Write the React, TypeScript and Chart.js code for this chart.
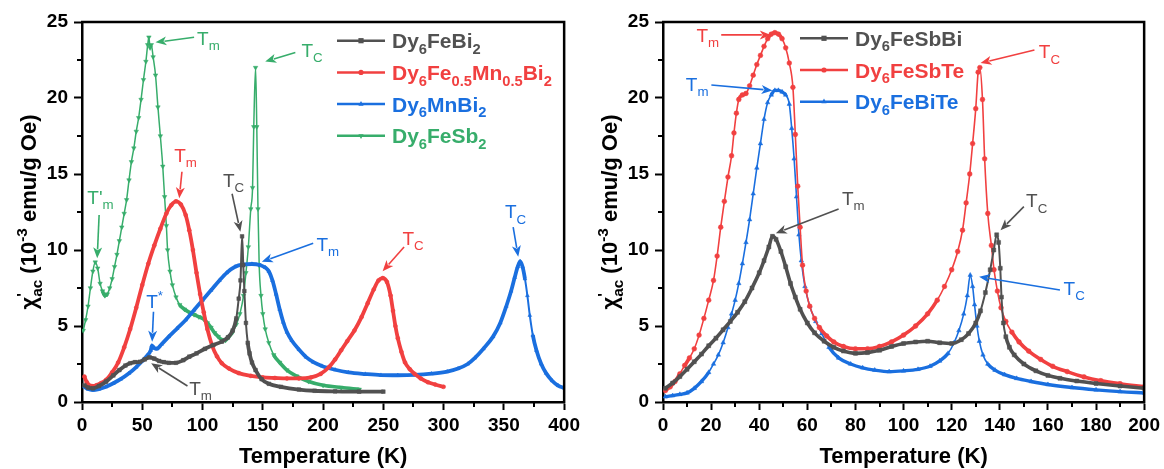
import React, { useEffect, useRef } from "react";
import { Chart, registerables } from "chart.js";

Chart.register(...registerables);

type Pt = [number, number];
type Part = { t: string; k?: "sub" | "sup"; stay?: boolean };

const FONT = "'Liberation Sans', Arial, Helvetica, sans-serif";
const BLACK = "#515151";
const RED = "#F14040";
const BLUE = "#1A6FDF";
const GREEN = "#37AD6B";

// ---------------- Left panel data: T (K), chi'ac (10^-3 emu/g Oe)
const dy6FeBi2: Pt[] = [
  [2, 1.1], [5, 0.95], [9, 0.9], [14, 1.05], [20, 1.34], [26, 1.75], [31, 2.1], [36, 2.4], [40, 2.55],
  [44, 2.62], [48, 2.65], [52, 2.8], [56, 2.94], [60, 2.85], [64, 2.7], [68, 2.62], [72, 2.58], [78, 2.58],
  [84, 2.75], [89, 2.98], [95, 3.2], [102, 3.5], [109, 3.75], [116, 3.97], [121, 4.25], [125, 4.7],
  [128, 5.5], [130, 6.8], [131.5, 8.0], [132.8, 10.9], [133.8, 9.0], [134.7, 7.3], [136, 5.2], [137.5, 3.9],
  [139, 3.2], [141, 2.6], [144, 2.1], [149, 1.5], [155, 1.2], [165, 1.0], [180, 0.82], [193, 0.74],
  [210, 0.7], [230, 0.68], [250, 0.68],
];
const dy6Fe05Mn05Bi2: Pt[] = [
  [2, 1.67], [4, 1.3], [8, 1.05], [12, 1.1], [16, 1.25], [20, 1.45], [25, 1.95], [30, 2.6], [35, 3.6],
  [40, 4.8], [45, 6.2], [50, 7.7], [55, 9.1], [60, 10.3], [65, 11.4], [70, 12.4], [74, 12.95], [78, 13.2],
  [82, 13.0], [86, 12.3], [89, 11.3], [92, 10.0], [95, 8.5], [98, 7.1], [101, 5.9], [104, 4.8], [108, 3.7],
  [112, 3.0], [116, 2.55], [122, 2.2], [130, 1.9], [140, 1.72], [150, 1.62], [160, 1.58], [170, 1.55],
  [180, 1.55], [190, 1.62], [198, 1.85], [205, 2.3], [210, 2.8], [215, 3.4], [220, 4.0], [226, 4.7],
  [232, 5.6], [237, 6.5], [242, 7.4], [246, 8.0], [249.5, 8.15], [253, 7.9], [256, 7.0], [258, 6.0],
  [260, 5.0], [262, 4.2], [265, 3.3], [268, 2.6], [272, 2.15], [276, 1.85], [281, 1.55], [287, 1.3],
  [293, 1.15], [300, 1.0],
];
const dy6MnBi2: Pt[] = [
  [2, 1.0], [5, 0.85], [9, 0.79], [14, 0.85], [20, 1.0], [26, 1.23], [32, 1.5], [39, 1.89], [45, 2.3],
  [50, 2.7], [54, 3.05], [57, 3.4], [58, 3.7], [60, 3.55], [62, 3.5], [66, 3.8], [72, 4.3], [79, 4.85],
  [86, 5.4], [93, 6.05], [100, 6.7], [107, 7.35], [114, 8.0], [120, 8.5], [127, 8.9], [134, 9.05],
  [141, 9.08], [148, 9.0], [152, 8.85], [155, 8.6], [158, 8.0], [161, 7.1], [164, 6.1], [167, 5.25],
  [170, 4.6], [174, 4.05], [180, 3.45], [186, 2.95], [192, 2.62], [199, 2.37], [210, 2.12], [221, 1.95],
  [235, 1.84], [248, 1.77], [262, 1.76], [276, 1.78], [290, 1.86], [303, 2.0], [312, 2.2], [320, 2.5],
  [326, 2.9], [333, 3.5], [341, 4.3], [347, 5.2], [352, 6.3], [356, 7.3], [359, 8.2], [361.5, 8.9],
  [363.5, 9.25], [365.5, 8.9], [367.5, 8.1], [369.5, 7.0], [371.5, 5.7], [374, 4.4], [377, 3.4],
  [381, 2.5], [385, 1.9], [390, 1.4], [395, 1.08], [400, 0.92],
];
const dy6FeSb2: Pt[] = [
  [1, 4.7], [3, 5.4], [5, 6.3], [7, 7.5], [9, 8.6], [11, 9.2], [13, 8.8], [15, 7.8], [17, 7.3], [19, 7.0],
  [21, 7.1], [23, 7.5], [25, 8.1], [27, 8.9], [29, 9.7], [31, 10.6], [33, 11.5], [35, 12.4], [37, 13.3],
  [39, 14.6], [41, 15.8], [43, 16.7], [45, 17.8], [47, 18.7], [49, 19.9], [51, 21.2], [53, 22.4],
  [54.5, 23.5], [55.5, 24.0], [56.5, 23.3], [57.5, 23.5], [59, 22.7], [61, 21.5], [63, 19.4], [65, 17.5],
  [67, 15.5], [68.5, 13.5], [70, 11.6], [71, 10.0], [73, 8.6], [75, 7.7], [78, 6.9], [81, 6.4], [85, 6.1],
  [89, 5.9], [93, 5.75], [97, 5.6], [101, 5.45], [104, 5.2], [107, 4.9], [110, 4.55], [113, 4.3],
  [116, 4.1], [119, 4.05], [122, 4.3], [125, 4.6], [128, 5.1], [131, 5.8], [134, 7.0], [136, 8.5],
  [138, 10.2], [140, 12.7], [141.5, 14.1], [142.5, 18.1], [144, 22.0], [145, 18.1], [146, 12.7],
  [147, 9.0], [148.5, 7.0], [150, 5.8], [152, 4.8], [155, 3.9], [159, 3.1], [164, 2.6], [170, 2.1],
  [178, 1.7], [188, 1.35], [200, 1.1], [215, 0.95], [230, 0.83],
];

// ---------------- Right panel data
const dy6FeSbBi: Pt[] = [
  [1, 0.9], [4, 1.25], [7, 1.67], [10, 2.15], [13, 2.65], [16, 3.15], [19, 3.7], [22, 4.2], [25, 4.75],
  [28, 5.3], [31, 5.9], [34, 6.6], [37, 7.5], [40, 8.5], [42, 9.3], [44, 10.2], [45.5, 10.9], [47, 10.7],
  [49, 9.9], [51, 8.9], [53, 7.8], [55, 6.9], [57, 6.1], [60, 5.2], [63, 4.55], [67, 4.0], [71, 3.6],
  [75, 3.35], [80, 3.2], [85, 3.25], [90, 3.4], [95, 3.65], [100, 3.85], [105, 3.95], [110, 4.0],
  [115, 3.9], [120, 3.85], [124, 4.1], [127, 4.5], [130, 5.2], [132, 6.0], [134, 7.2], [136, 8.7],
  [137.5, 10.0], [138.7, 11.0], [139.5, 10.5], [140.2, 8.8], [140.7, 6.9], [141.5, 5.2], [142.5, 4.3],
  [144, 3.6], [146, 3.1], [150, 2.5], [155, 2.05], [160, 1.75], [165, 1.56], [172, 1.38], [180, 1.22],
  [190, 1.05], [200, 0.9],
];
const dy6FeSbTe: Pt[] = [
  [1, 0.75], [3, 1.0], [5, 1.35], [7, 1.85], [9, 2.4], [11, 2.9], [13, 3.5], [15, 4.4], [17, 5.5],
  [19, 6.7], [21, 8.0], [22.5, 9.6], [24, 11.5], [25.5, 13.2], [27, 14.8], [28.5, 16.2], [29.5, 17.7],
  [30.5, 19.0], [31.5, 19.9], [33, 20.2], [34.5, 20.3], [36, 20.8], [37.5, 21.5], [39, 22.2], [40.5, 22.8],
  [42, 23.4], [43.5, 23.9], [45, 24.2], [46.5, 24.3], [48, 24.2], [49.5, 23.9], [51, 23.3], [52.5, 22.3],
  [54, 20.7], [55, 17.6], [56, 14.2], [57, 11.5], [58, 9.0], [59.5, 7.3], [61, 6.3], [63, 5.5], [65, 4.9],
  [68, 4.35], [71, 3.95], [75, 3.65], [80, 3.5], [85, 3.5], [90, 3.65], [95, 3.95], [100, 4.4], [105, 5.0],
  [110, 5.8], [114, 6.7], [117, 7.6], [120, 8.7], [122.5, 9.9], [124.5, 11.3], [126, 13.1], [127.5, 15.0],
  [128.7, 17.0], [130, 19.3], [131, 21.7], [131.7, 22.0], [132.8, 19.9], [133.7, 16.0], [135, 12.4],
  [136.5, 10.3], [137.6, 8.7], [139, 7.3], [140.5, 6.2], [142.5, 5.3], [145, 4.6], [148, 3.95],
  [152, 3.35], [157, 2.8], [162, 2.35], [168, 2.0], [175, 1.65], [182, 1.4], [190, 1.2], [200, 1.0],
];
const dy6FeBiTe: Pt[] = [
  [1, 0.35], [4, 0.42], [7, 0.5], [10, 0.6], [13, 0.9], [16, 1.35], [19, 1.95], [21, 2.5], [23, 3.1],
  [25, 3.9], [27, 4.9], [28.5, 5.8], [30, 6.7], [31.5, 7.8], [33, 9.1], [34.5, 10.5], [36, 12.0],
  [37.5, 13.7], [39, 15.4], [40.5, 17.0], [42, 18.6], [43.5, 19.7], [45, 20.2], [46.5, 20.5], [48, 20.5],
  [49.5, 20.4], [51, 20.2], [52.5, 19.6], [53.5, 18.0], [54.5, 16.0], [55.5, 13.5], [56.5, 11.0],
  [57.5, 9.3], [59, 7.6], [61, 6.3], [63.5, 5.3], [66, 4.5], [69, 3.6], [73, 2.9], [78, 2.5], [83, 2.25],
  [88, 2.1], [94, 2.0], [100, 2.05], [106, 2.15], [111, 2.35], [115, 2.7], [118.5, 3.2], [121, 3.9],
  [123, 4.7], [125, 5.8], [126.5, 7.0], [127.7, 8.35], [128.7, 7.6], [129.5, 6.4], [130.5, 5.0],
  [131.5, 4.0], [133, 3.1], [135, 2.5], [138, 2.1], [142, 1.8], [147, 1.55], [153, 1.35], [160, 1.15],
  [170, 0.95], [180, 0.8], [190, 0.68], [200, 0.6],
];

// axis ranges / ticks
const leftXRange = [0, 400];
const leftXStep = 50;
const leftXMinor = 25;
const rightXRange = [0, 200];
const rightXStep = 20;
const rightXMinor = 10;
const yRange = [0, 25];
const yStep = 5;
const yMinor = 2.5;

const xTitle = "Temperature (K)";
const yTitle: Part[] = [
  { t: "\u03C7" },
  { t: "'", k: "sup", stay: true },
  { t: "ac", k: "sub" },
  { t: " (10" },
  { t: "-3", k: "sup" },
  { t: " emu/g Oe)" },
];

const Tm: Part[] = [{ t: "T" }, { t: "m", k: "sub" }];
const TC: Part[] = [{ t: "T" }, { t: "C", k: "sub" }];
const TpM: Part[] = [{ t: "T'" }, { t: "m", k: "sub" }];
const Tstar: Part[] = [{ t: "T" }, { t: "*", k: "sup" }];

type Style = "rect" | "circle" | "triangle" | "triangleDown";
interface Series {
  name: Part[];
  color: string;
  points: Pt[];
  style: Style;
  thin: number;
  thick: number;
  pxPerK: number; // segments flatter than this (pixels per kelvin) look like dense, thick runs
  radius: number;
}
interface Note {
  parts: Part[];
  color: string;
  at: Pt; // left / baseline of the text in data units
  from: Pt;
  to: Pt;
}
interface Panel {
  xRange: number[];
  xStep: number;
  xMinor: number;
  yAxisWidth: number;
  series: Series[];
  notes: Note[];
  legend: { x0: number; x1: number; tx: number; y0: number; dy: number };
}

const leftPanel: Panel = {
  xRange: leftXRange,
  xStep: leftXStep,
  xMinor: leftXMinor,
  yAxisWidth: 82,
  series: [
    { name: [{ t: "Dy" }, { t: "6", k: "sub" }, { t: "FeBi" }, { t: "2", k: "sub" }], color: BLACK, points: dy6FeBi2, style: "rect", thin: 2, thick: 3.8, pxPerK: 9, radius: 2.6 },
    {
      name: [{ t: "Dy" }, { t: "6", k: "sub" }, { t: "Fe" }, { t: "0.5", k: "sub" }, { t: "Mn" }, { t: "0.5", k: "sub" }, { t: "Bi" }, { t: "2", k: "sub" }],
      color: RED, points: dy6Fe05Mn05Bi2, style: "circle", thin: 3.8, thick: 3.8, pxPerK: 0, radius: 2,
    },
    { name: [{ t: "Dy" }, { t: "6", k: "sub" }, { t: "MnBi" }, { t: "2", k: "sub" }], color: BLUE, points: dy6MnBi2, style: "triangle", thin: 2, thick: 3.8, pxPerK: 7, radius: 2.2 },
    { name: [{ t: "Dy" }, { t: "6", k: "sub" }, { t: "FeSb" }, { t: "2", k: "sub" }], color: GREEN, points: dy6FeSb2, style: "triangleDown", thin: 1.5, thick: 3.6, pxPerK: 2.6, radius: 2.6 },
  ],
  notes: [
    { parts: Tm, color: GREEN, at: [95.5, 23.5], from: [93, 24.0], to: [61, 23.66] },
    { parts: TC, color: GREEN, at: [182, 22.7], from: [177, 23.0], to: [152, 22.4] },
    { parts: TpM, color: GREEN, at: [4.4, 13.05], from: [14.2, 12.3], to: [12.6, 9.45] },
    { parts: Tm, color: RED, at: [76.5, 15.8], from: [82.9, 15.15], to: [80.7, 13.4] },
    { parts: TC, color: BLACK, at: [116.9, 14.15], from: [124.5, 13.7], to: [131.4, 11.2] },
    { parts: Tm, color: BLUE, at: [194.5, 9.95], from: [191.8, 10.45], to: [149.2, 9.23] },
    { parts: TC, color: RED, at: [265.8, 10.33], from: [267.2, 10.2], to: [249.4, 8.6] },
    { parts: TC, color: BLUE, at: [350.9, 12.08], from: [357.7, 11.5], to: [361.9, 9.56] },
    { parts: Tstar, color: BLUE, at: [53.2, 6.16], from: [59.3, 5.94], to: [58.2, 3.97] },
    { parts: Tm, color: BLACK, at: [88.9, 0.46], from: [87.5, 1.05], to: [57.4, 2.55] },
  ],
  legend: { x0: 337, x1: 385, tx: 392, y0: 40.7, dy: 31.7 },
};

const rightPanel: Panel = {
  xRange: rightXRange,
  xStep: rightXStep,
  xMinor: rightXMinor,
  yAxisWidth: 83,
  series: [
    { name: [{ t: "Dy" }, { t: "6", k: "sub" }, { t: "FeSbBi" }], color: BLACK, points: dy6FeSbBi, style: "rect", thin: 2, thick: 3.6, pxPerK: 9, radius: 2.8 },
    { name: [{ t: "Dy" }, { t: "6", k: "sub" }, { t: "FeSbTe" }], color: RED, points: dy6FeSbTe, style: "circle", thin: 1.6, thick: 3.6, pxPerK: 4.5, radius: 2.4 },
    { name: [{ t: "Dy" }, { t: "6", k: "sub" }, { t: "FeBiTe" }], color: BLUE, points: dy6FeBiTe, style: "triangle", thin: 1.6, thick: 3.4, pxPerK: 4.5, radius: 2.6 },
  ],
  notes: [
    { parts: Tm, color: RED, at: [13.9, 23.7], from: [24.2, 24.15], to: [44.8, 24.15] },
    { parts: Tm, color: BLUE, at: [9.5, 20.48], from: [20.1, 20.86], to: [45.5, 20.5] },
    { parts: Tm, color: BLACK, at: [74.4, 12.96], from: [73, 12.7], to: [46.9, 11.1] },
    { parts: TC, color: RED, at: [156.2, 22.6], from: [154.4, 23.16], to: [132, 22.3] },
    { parts: TC, color: BLACK, at: [150.9, 12.8], from: [150, 12.85], to: [140.3, 11.3] },
    { parts: TC, color: BLUE, at: [166.5, 7.04], from: [165, 7.37], to: [131.4, 8.24] },
  ],
  legend: { x0: 220, x1: 268, tx: 275, y0: 38.3, dy: 31.7 },
};

function drawRich(ctx: CanvasRenderingContext2D, parts: Part[], x: number, y: number, size: number, weight: string, color: string, measureOnly = false): number {
  let cx = x;
  for (const p of parts) {
    const s = p.k ? size * 0.7 : size;
    const dy = p.k === "sub" ? size * 0.27 : p.k === "sup" ? -size * 0.42 : 0;
    ctx.font = `${weight} ${s}px ${FONT}`;
    if (!measureOnly) {
      ctx.fillStyle = color;
      ctx.fillText(p.t, cx, y + dy);
    }
    if (!p.stay) cx += ctx.measureText(p.t).width;
  }
  return cx - x;
}

function drawMarker(ctx: CanvasRenderingContext2D, style: Style, x: number, y: number, r: number, color: string) {
  ctx.fillStyle = color;
  ctx.beginPath();
  if (style === "rect") ctx.rect(x - r, y - r, 2 * r, 2 * r);
  else if (style === "circle") ctx.arc(x, y, r, 0, Math.PI * 2);
  else if (style === "triangle") {
    ctx.moveTo(x, y - r * 1.2);
    ctx.lineTo(x - r, y + r * 0.6);
    ctx.lineTo(x + r, y + r * 0.6);
    ctx.closePath();
  } else {
    ctx.moveTo(x, y + r * 1.2);
    ctx.lineTo(x - r, y - r * 0.6);
    ctx.lineTo(x + r, y - r * 0.6);
    ctx.closePath();
  }
  ctx.fill();
}

function drawArrow(ctx: CanvasRenderingContext2D, x1: number, y1: number, x2: number, y2: number, color: string) {
  const ang = Math.atan2(y2 - y1, x2 - x1);
  const hl = 11;
  const hw = 4.5;
  const bx = x2 - hl * Math.cos(ang);
  const by = y2 - hl * Math.sin(ang);
  ctx.strokeStyle = color;
  ctx.fillStyle = color;
  ctx.lineWidth = 1.6;
  ctx.beginPath();
  ctx.moveTo(x1, y1);
  ctx.lineTo(bx + 2 * Math.cos(ang), by + 2 * Math.sin(ang));
  ctx.stroke();
  ctx.beginPath();
  ctx.moveTo(x2, y2);
  ctx.lineTo(bx + hw * Math.sin(ang), by - hw * Math.cos(ang));
  ctx.lineTo(bx + 3 * Math.cos(ang), by + 3 * Math.sin(ang));
  ctx.lineTo(bx - hw * Math.sin(ang), by + hw * Math.cos(ang));
  ctx.closePath();
  ctx.fill();
}

function buildChart(canvas: HTMLCanvasElement, panel: Panel): Chart {
  const overlay = {
    id: "overlay",
    afterDraw(chart: any) {
      const ctx: CanvasRenderingContext2D = chart.ctx;
      const a = chart.chartArea;
      const xs = chart.scales.x;
      const ys = chart.scales.y;
      ctx.save();
      // frame top / right
      ctx.strokeStyle = "#000";
      ctx.lineWidth = 2.5;
      ctx.beginPath();
      ctx.moveTo(a.left - 1, a.top);
      ctx.lineTo(a.right, a.top);
      ctx.lineTo(a.right, a.bottom + 1);
      ctx.stroke();
      // minor ticks
      ctx.lineWidth = 2;
      ctx.beginPath();
      for (let v = panel.xMinor; v < panel.xRange[1]; v += panel.xStep) {
        const px = Math.round(xs.getPixelForValue(v));
        ctx.moveTo(px, a.bottom);
        ctx.lineTo(px, a.bottom + 5);
      }
      for (let v = yMinor; v < yRange[1]; v += yStep) {
        const py = Math.round(ys.getPixelForValue(v));
        ctx.moveTo(a.left, py);
        ctx.lineTo(a.left - 5, py);
      }
      ctx.stroke();

      // annotations
      ctx.textBaseline = "alphabetic";
      ctx.textAlign = "left";
      for (const n of panel.notes) {
        drawArrow(ctx, xs.getPixelForValue(n.from[0]), ys.getPixelForValue(n.from[1]), xs.getPixelForValue(n.to[0]), ys.getPixelForValue(n.to[1]), n.color);
        drawRich(ctx, n.parts, xs.getPixelForValue(n.at[0]), ys.getPixelForValue(n.at[1]), 19, "normal", n.color);
      }

      // legend
      const L = panel.legend;
      panel.series.forEach((s, i) => {
        const y = L.y0 + i * L.dy;
        ctx.strokeStyle = s.color;
        ctx.lineWidth = 2.5;
        ctx.beginPath();
        ctx.moveTo(L.x0, y);
        ctx.lineTo(L.x1, y);
        ctx.stroke();
        drawMarker(ctx, s.style, (L.x0 + L.x1) / 2, y, 2.6, s.color);
        drawRich(ctx, s.name, L.tx, y + 7.5, 21, "bold", s.color);
      });

      // axis titles
      ctx.fillStyle = "#000";
      ctx.font = `bold 22px ${FONT}`;
      ctx.textAlign = "center";
      ctx.fillText(xTitle, (a.left + a.right) / 2, 463);
      ctx.textAlign = "left";
      const w = drawRich(ctx, yTitle, 0, 0, 22, "bold", "#000", true);
      ctx.translate(a.left - 46, (a.top + a.bottom) / 2);
      ctx.rotate(-Math.PI / 2);
      drawRich(ctx, yTitle, -w / 2, 0, 22, "bold", "#000");
      ctx.restore();
    },
  };

  const tickFont = { family: FONT, size: 19, weight: "bold" as const };

  return new Chart(canvas, {
    type: "line",
    data: {
      datasets: panel.series.map((s) => ({
        label: s.name.map((p) => p.t).join(""),
        data: s.points.map(([x, y]) => ({ x, y })),
        borderColor: s.color,
        backgroundColor: s.color,
        pointBackgroundColor: s.color,
        pointBorderColor: s.color,
        pointBorderWidth: 0.5,
        borderWidth: s.thick,
        segment: {
          borderWidth: (c: any) => {
            const dT = Math.abs(c.p1.parsed.x - c.p0.parsed.x) || 1;
            const len = Math.hypot(c.p1.x - c.p0.x, c.p1.y - c.p0.y);
            return len / dT < s.pxPerK ? s.thick : s.thin;
          },
        },
        pointStyle: s.style === "triangleDown" ? "triangle" : s.style,
        rotation: s.style === "triangleDown" ? 180 : 0,
        pointRadius: s.radius,
        cubicInterpolationMode: "monotone" as const,
        fill: false,
      })),
    },
    options: {
      responsive: false,
      animation: false,
      events: [],
      devicePixelRatio: 1,
      layout: { padding: { left: 0, right: 16, top: 22, bottom: 0 } },
      plugins: { legend: { display: false }, tooltip: { enabled: false }, title: { display: false } },
      scales: {
        x: {
          type: "linear",
          min: panel.xRange[0],
          max: panel.xRange[1],
          ticks: { stepSize: panel.xStep, font: tickFont, color: "#000", padding: 4, maxRotation: 0, autoSkip: false },
          grid: { display: true, drawOnChartArea: false, drawTicks: true, tickLength: 8, tickWidth: 2, tickColor: "#000" },
          border: { display: true, color: "#000", width: 2.5 },
          afterFit: (s: any) => {
            s.height = 67;
          },
        },
        y: {
          type: "linear",
          min: yRange[0],
          max: yRange[1],
          ticks: { stepSize: yStep, font: tickFont, color: "#000", padding: 6, autoSkip: false },
          grid: { display: true, drawOnChartArea: false, drawTicks: true, tickLength: 8, tickWidth: 2, tickColor: "#000" },
          border: { display: true, color: "#000", width: 2.5 },
          afterFit: (s: any) => {
            s.width = panel.yAxisWidth;
          },
        },
      },
    },
    plugins: [overlay],
  } as any);
}

function PanelChart({ panel, left }: { panel: Panel; left: number }) {
  const ref = useRef<HTMLCanvasElement | null>(null);
  useEffect(() => {
    if (!ref.current) return;
    const chart = buildChart(ref.current, panel);
    return () => chart.destroy();
  }, [panel]);
  return (
    <canvas
      ref={ref}
      width={584}
      height={469}
      style={{ position: "absolute", left, top: 0, width: 584, height: 469 }}
    />
  );
}

export default function App() {
  return (
    <div style={{ position: "absolute", left: 0, top: 0, width: 1164, height: 469, background: "#fff", overflow: "hidden" }}>
      <PanelChart panel={leftPanel} left={0} />
      <PanelChart panel={rightPanel} left={580} />
    </div>
  );
}
